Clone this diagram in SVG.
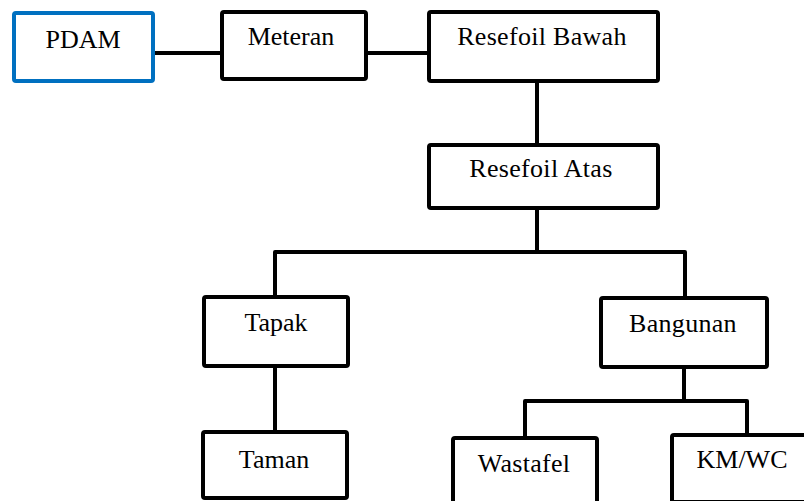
<svg xmlns="http://www.w3.org/2000/svg" width="804" height="501" viewBox="0 0 804 501">
<style>
.box{fill:#fff;stroke:#000;stroke-width:4;stroke-linejoin:round}
.blue{stroke:#0070C0}
.ln{fill:none;stroke:#000;stroke-width:4;stroke-linejoin:round}
text{font-family:'Liberation Serif','Times New Roman',serif;font-size:26px;fill:#000;text-anchor:middle}
</style>
<rect width="804" height="501" fill="#fff"/>
<g id="connectors">
<path class="ln" d="M153 53H222"/>
<path class="ln" d="M366 53H430"/>
<path class="ln" d="M537 82V145"/>
<path class="ln" d="M537 208V252"/>
<path class="ln" d="M275 297V252H685V297"/>
<path class="ln" d="M275 366V432"/>
<path class="ln" d="M684 367V401"/>
<path class="ln" d="M525 438V401H747V435"/>
</g>
<g id="pdam"><rect class="box blue" x="14" y="13" width="139" height="68" rx="2"/><text x="83" y="48">PDAM</text></g>
<g id="meteran"><rect class="box" x="222" y="12" width="144" height="67" rx="2"/><text x="291" y="45">Meteran</text></g>
<g id="resefoil-bawah"><rect class="box" x="429" y="12" width="229" height="69" rx="2"/><text x="542" y="45" letter-spacing="0.3">Resefoil Bawah</text></g>
<g id="resefoil-atas"><rect class="box" x="429" y="145" width="229" height="63" rx="2"/><text x="541" y="177" letter-spacing="0.3">Resefoil Atas</text></g>
<g id="tapak"><rect class="box" x="204" y="297" width="144" height="69" rx="2"/><text x="276" y="331">Tapak</text></g>
<g id="bangunan"><rect class="box" x="601" y="298" width="166" height="69" rx="2"/><text x="683" y="332" letter-spacing="0.3">Bangunan</text></g>
<g id="taman"><rect class="box" x="203" y="432" width="144" height="66" rx="2"/><text x="274" y="468">Taman</text></g>
<g id="wastafel"><rect class="box" x="453" y="438" width="144" height="80" rx="2"/><text x="524" y="472" letter-spacing="0.3">Wastafel</text></g>
<g id="kmwc"><rect class="box" x="672" y="435" width="160" height="67" rx="2"/><text x="742" y="468">KM/WC</text></g>
</svg>
